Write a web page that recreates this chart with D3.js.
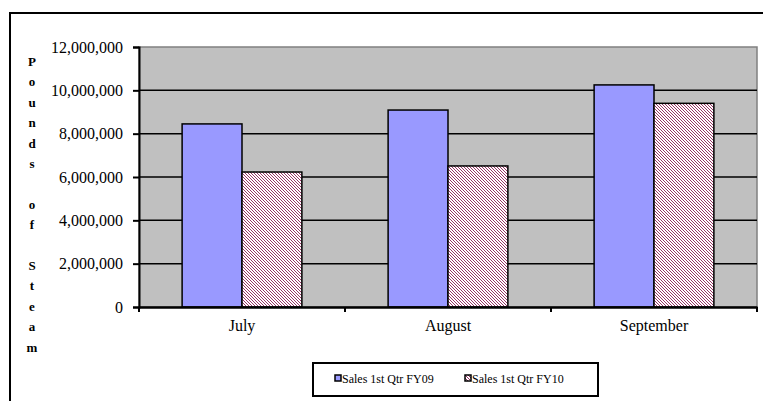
<!DOCTYPE html>
<html>
<head>
<meta charset="utf-8">
<script src="https://cdn.jsdelivr.net/npm/d3@7"></script>
<style>
  html, body { margin: 0; padding: 0; background: #fff; }
</style>
</head>
<body>
<svg id="chart" width="763" height="401"></svg>
<script>
// Monthly steam sales, first quarter, two fiscal years
const months = ["July", "August", "September"];
const seriesNames = ["Sales 1st Qtr FY09", "Sales 1st Qtr FY10"];
const salesFY09 = [8450000, 9090000, 10250000];
const salesFY10 = [6230000, 6510000, 9400000];
const yTicks = [0, 2000000, 4000000, 6000000, 8000000, 10000000, 12000000];
const yTitle = "Pounds of Steam";

const FONT = "Liberation Serif";
const svg = d3.select("#chart");
const plot = { left: 139, right: 757, top: 47, bottom: 307 };

// hatch pattern for the FY10 series
const defs = svg.append("defs");
const pat = defs.append("pattern")
  .attr("id", "hatch")
  .attr("patternUnits", "userSpaceOnUse")
  .attr("width", 3).attr("height", 3);
pat.append("rect").attr("width", 3).attr("height", 3).attr("fill", "#fff");
pat.append("path")
  .attr("d", "M-1,-1 L4,4 M-1,2 L1,4 M2,-1 L4,1")
  .attr("stroke", "#993366").attr("stroke-width", 1);

// outer chart frame
svg.append("rect")
  .attr("x", 10).attr("y", 13).attr("width", 780).attr("height", 420)
  .attr("fill", "none").attr("stroke", "#000").attr("stroke-width", 2);

const x = d3.scaleBand().domain(months).range([plot.left, plot.right]);
const y = d3.scaleLinear().domain([0, 12000000]).range([plot.bottom, plot.top]);
const inner = d3.scaleBand().domain(seriesNames).range([0, x.bandwidth()]).paddingInner(0).paddingOuter(0.72);

// plot area background
svg.append("rect")
  .attr("x", plot.left).attr("y", plot.top)
  .attr("width", plot.right - plot.left).attr("height", plot.bottom - plot.top)
  .attr("fill", "#c0c0c0").attr("stroke", "#808080").attr("stroke-width", 1.5);

// gridlines
svg.append("g").selectAll("line")
  .data(yTicks.filter(d => d > 0 && d < 12000000))
  .join("line")
  .attr("x1", plot.left).attr("x2", plot.right)
  .attr("y1", d => y(d)).attr("y2", d => y(d))
  .attr("stroke", "#000").attr("stroke-width", 1.5);

// bars
const rows = months.map((m, i) => [
  { m, s: seriesNames[0], v: salesFY09[i] },
  { m, s: seriesNames[1], v: salesFY10[i] }
]).flat();

svg.append("g").selectAll("rect")
  .data(rows)
  .join("rect")
  .attr("x", d => x(d.m) + inner(d.s))
  .attr("y", d => y(d.v))
  .attr("width", inner.bandwidth())
  .attr("height", d => y(0) - y(d.v))
  .attr("fill", d => d.s === seriesNames[0] ? "#9999ff" : "url(#hatch)")
  .attr("stroke", "#000").attr("stroke-width", 1.5);

// y axis
const yAxis = svg.append("g")
  .attr("transform", `translate(${plot.left},0)`)
  .call(d3.axisLeft(y).tickValues(yTicks).tickSize(6).tickPadding(10)
    .tickFormat(d3.format(",")));
yAxis.attr("font-family", FONT);
yAxis.select(".domain").attr("stroke", "#000").attr("stroke-width", 2);
yAxis.selectAll(".tick line").attr("stroke", "#000").attr("stroke-width", 2);
yAxis.selectAll(".tick text")
  .attr("font-family", FONT).attr("font-size", 16).attr("fill", "#000");

// x axis
const xAxis = svg.append("g")
  .attr("transform", `translate(0,${plot.bottom})`)
  .call(d3.axisBottom(x).tickSize(0).tickPadding(13));
xAxis.attr("font-family", FONT);
xAxis.select(".domain").attr("stroke", "#000").attr("stroke-width", 2.5);
xAxis.selectAll(".tick text")
  .attr("font-family", FONT).attr("font-size", 16).attr("fill", "#000");

// category separators on the x axis
svg.append("g").selectAll("line")
  .data(months.map(m => x(m)).concat([x(months[months.length - 1]) + x.bandwidth()]))
  .join("line")
  .attr("x1", d => d).attr("x2", d => d)
  .attr("y1", plot.bottom).attr("y2", plot.bottom + 5)
  .attr("stroke", "#000").attr("stroke-width", 2);

// stacked vertical axis title
const letters = yTitle.split("");
svg.append("g").selectAll("text")
  .data(letters)
  .join("text")
  .attr("x", 32).attr("y", (d, i) => 66 + i * 20.4)
  .attr("text-anchor", "middle")
  .attr("font-family", FONT)
  .attr("font-size", 13).attr("font-weight", "bold")
  .text(d => d === " " ? "" : d);

// legend
const lg = svg.append("g");
lg.append("rect")
  .attr("x", 313).attr("y", 363).attr("width", 285).attr("height", 33)
  .attr("fill", "#fff").attr("stroke", "#000").attr("stroke-width", 2);
const legendX = [335, 465];
seriesNames.forEach((s, i) => {
  lg.append("rect")
    .attr("x", legendX[i]).attr("y", 375).attr("width", 6).attr("height", 6)
    .attr("fill", i === 0 ? "#9999ff" : "url(#hatch)")
    .attr("stroke", "#000").attr("stroke-width", 1.5);
  lg.append("text")
    .attr("x", legendX[i] + 7).attr("y", 383)
    .attr("font-family", FONT)
    .attr("font-size", 12)
    .text(s);
});
</script>
</body>
</html>
